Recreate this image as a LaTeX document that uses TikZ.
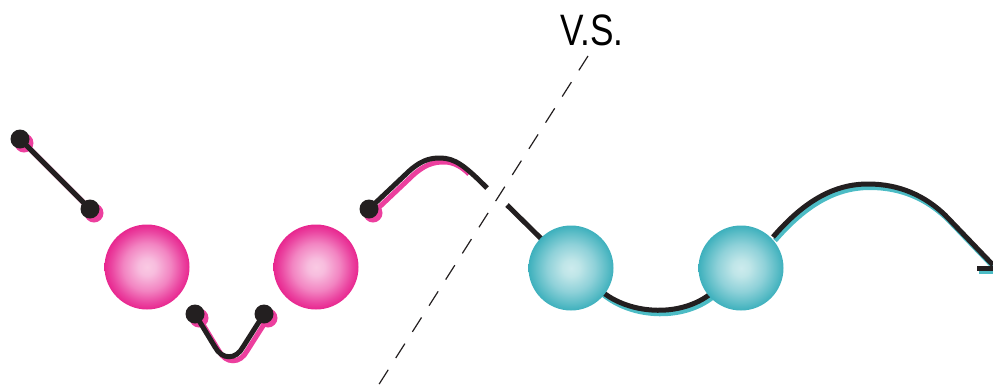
\documentclass[tikz,border=0pt]{standalone}
\usepackage{fontspec}
\setmainfont{Liberation Sans}
\usepackage{graphicx}
\definecolor{ink}{HTML}{231F20}
\definecolor{pinksh}{HTML}{EC3F9E}
\definecolor{cyansh}{HTML}{4CBCC5}
\pgfdeclareradialshading{pinkball}{\pgfpoint{0bp}{0bp}}{rgb(0bp)=(0.98,0.79,0.89); rgb(5bp)=(0.97,0.74,0.87); rgb(14bp)=(0.95,0.52,0.76); rgb(21bp)=(0.92,0.27,0.63); rgb(25bp)=(0.91,0.15,0.56); rgb(50bp)=(0.91,0.15,0.56)}
\pgfdeclareradialshading{cyanball}{\pgfpoint{0bp}{0bp}}{rgb(0bp)=(0.80,0.92,0.93); rgb(5bp)=(0.75,0.90,0.91); rgb(14bp)=(0.56,0.82,0.85); rgb(21bp)=(0.36,0.74,0.78); rgb(25bp)=(0.24,0.69,0.74); rgb(50bp)=(0.24,0.69,0.74)}
\begin{document}
\begin{tikzpicture}[x=1pt,y=-1pt,
  ball/.style={circle,minimum size=85pt,inner sep=0pt,draw=none},
  pinkb/.style={ball,shading=pinkball},
  cyanb/.style={ball,shading=cyanball},
  ln/.style={draw=ink,line width=5pt},
  psh/.style={draw=pinksh,line width=5pt},
  csh/.style={draw=cyansh,line width=5pt},
  dotk/.style={fill=ink},
  dotp/.style={fill=pinksh},
  ps/.style={shift={(4,4)}},
  cs/.style={shift={(2,3.5)}},
  vsline/.style={draw=ink,line width=1.2pt,dash pattern=on 17pt off 14pt}]
\useasboundingbox (0,0) rectangle (993,389);
% coordinates
\coordinate (a1) at (20,139);
\coordinate (a2) at (90,209);
\coordinate (u1) at (195,314);
\coordinate (u2) at (264,314);
\coordinate (h1) at (369,209);
\coordinate (h2) at (487,188);
\coordinate (hp) at (469,174);
\coordinate (h3) at (507,205);
\coordinate (r1) at (773,237);
\coordinate (r2) at (993,265);
\coordinate (t1) at (977,268);
\coordinate (t2) at (993,268);
\coordinate (d1) at (588,56);
\coordinate (d2) at (376,389);
% dashed divider
\draw[vsline] (d1) -- (d2);
\node[anchor=south,inner sep=0pt] (vs) at (592,46) {\fontsize{44}{44}\selectfont\scalebox{0.8}[1]{V.S.}};
% pink shadows
\draw[psh] ([ps]a1) -- ([ps]a2);
\draw[psh] ([ps]u1) -- (219,351) .. controls (226,364) and (240,364) .. (247,351) -- ([ps]u2);
\draw[psh] ([ps]h1) -- (409,179) .. controls (424,164) and (434,162) .. (444,162) .. controls (454,162) and (462,167) .. (hp);
\fill[dotp] ([ps]a1) circle (9.5);
\fill[dotp] ([ps]a2) circle (9.5);
\fill[dotp] ([ps]u1) circle (9.5);
\fill[dotp] ([ps]u2) circle (9.5);
\fill[dotp] ([ps]h1) circle (9.5);
% black lines (pink side)
\draw[ln] (a1) -- (a2);
\draw[ln] (u1) -- (215,347) .. controls (222,360) and (236,360) .. (243,347) -- (u2);
\draw[ln] (h1) -- (405,175) .. controls (420,160) and (430,158) .. (440,158) .. controls (455,158) and (465,166) .. (h2);
\fill[dotk] (a1) circle (9.5);
\fill[dotk] (a2) circle (9.5);
\fill[dotk] (u1) circle (9.5);
\fill[dotk] (u2) circle (9.5);
\fill[dotk] (h1) circle (9.5);
% cyan side lines
\draw[ln] (h3) -- (571,268);
\begin{scope}[cs]
\draw[csh] (600,290) .. controls (630,316) and (685,318) .. (715,290);
\draw[csh] ([cs]r1) .. controls (805,200) and (835,184) .. (868,184) .. controls (900,184) and (925,196) .. (945,215) -- ([cs]r2);
\draw[csh] ([cs]t1) -- ([cs]t2);
\end{scope}
\draw[ln] (600,290) .. controls (630,316) and (685,318) .. (715,290);
\draw[ln] (r1) .. controls (805,200) and (835,184) .. (868,184) .. controls (900,184) and (925,196) .. (945,215) -- (r2);
\draw[ln] (t1) -- (t2);
% spheres
\node[pinkb] (p1) at (147,267) {};
\node[pinkb] (p2) at (316,267) {};
\node[cyanb] (c1) at (571,268) {};
\node[cyanb] (c2) at (741,268) {};
\end{tikzpicture}
\end{document}
